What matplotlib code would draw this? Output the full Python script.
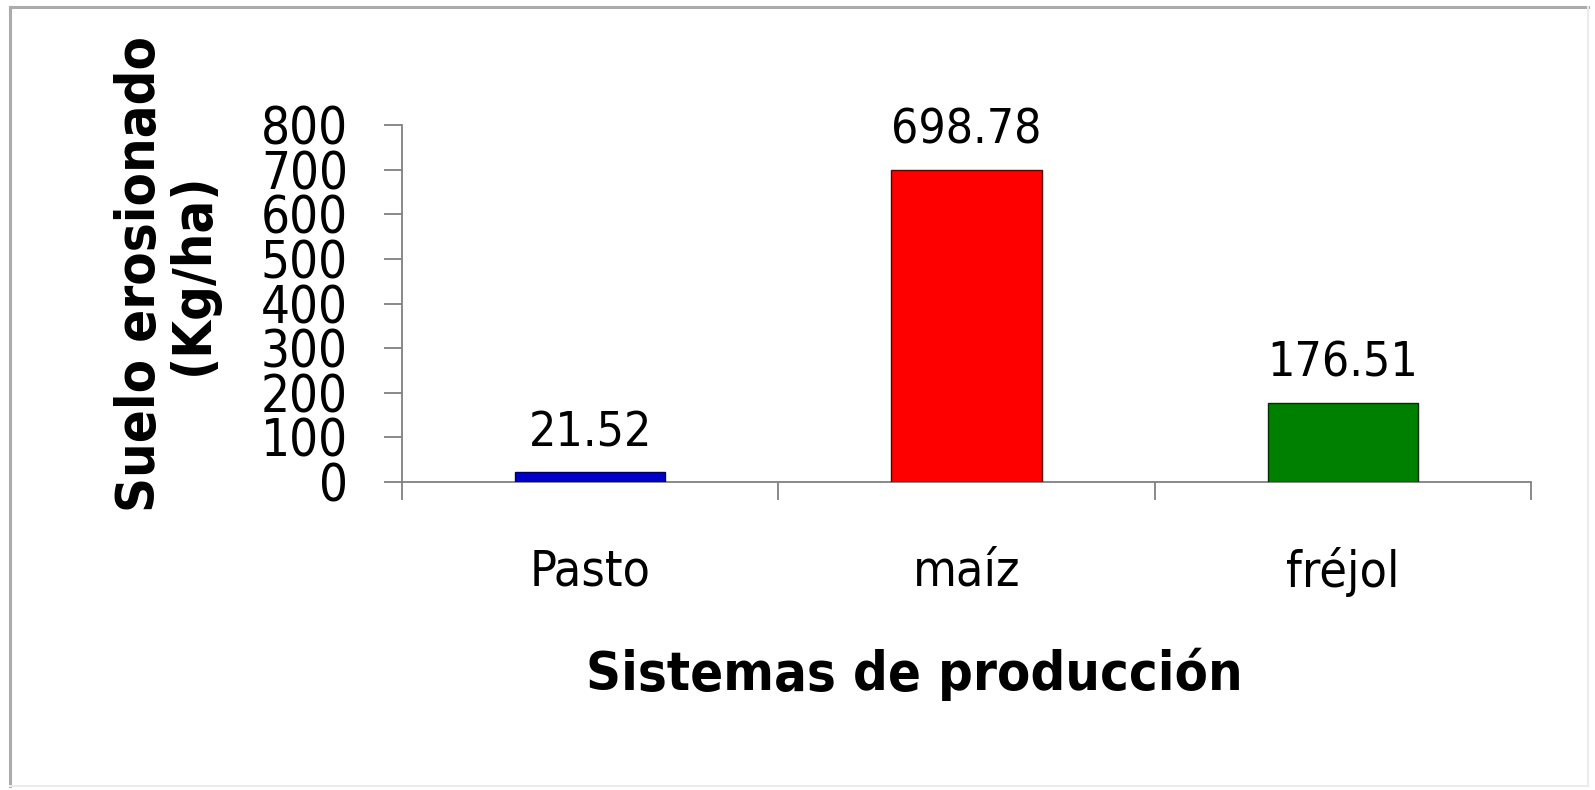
import matplotlib
matplotlib.use("Agg")
import matplotlib.pyplot as plt
from matplotlib.lines import Line2D

# Soil eroded per production system (kg/ha)
categories = ["Pasto", "maíz", "fréjol"]
values = [21.52, 698.78, 176.51]
value_labels = ["21.52", "698.78", "176.51"]
bar_colors = ["#0000C8", "#FF0000", "#008000"]
edge_colors = ["#000060", "#600000", "#003000"]
y_ticks = [0, 100, 200, 300, 400, 500, 600, 700, 800]

plt.rcParams["font.family"] = ["DejaVu Sans"]

W, H = 1595, 790
fig = plt.figure(figsize=(W / 100, H / 100), dpi=100)
fig.patch.set_facecolor("white")


def fx(px):
    return px / W


def fy(py):
    return 1 - py / H


# chart-area frame: darker top/left edges, faint bottom/right edges
fig.add_artist(Line2D([fx(10), fx(10)], [fy(7), fy(786)], color="#ABABAB", lw=2.2))
fig.add_artist(Line2D([fx(10), fx(1588)], [fy(7), fy(7)], color="#ABABAB", lw=2.2))
fig.add_artist(Line2D([fx(1588), fx(1588)], [fy(7), fy(786)], color="#EBEBEB", lw=1.5))
fig.add_artist(Line2D([fx(10), fx(1588)], [fy(786), fy(786)], color="#EBEBEB", lw=1.5))

ax = fig.add_axes([fx(402), fy(482), fx(1531) - fx(402), fy(125) - fy(482)])
ax.set_facecolor("none")
x = list(range(len(categories)))
ax.bar(x, values, width=0.40, color=bar_colors, edgecolor=edge_colors,
       linewidth=1.0, zorder=3)

ax.set_xlim(-0.5, len(categories) - 0.5)
ax.set_ylim(0, 800)

for s in ["top", "right"]:
    ax.spines[s].set_visible(False)
for s in ["left", "bottom"]:
    ax.spines[s].set_color("#808080")
    ax.spines[s].set_linewidth(1.3)

ax.set_yticks(y_ticks)
ax.set_yticklabels([str(v) for v in y_ticks], fontsize=36.5, fontstretch="condensed")
ax.tick_params(axis="y", direction="out", length=13, width=1.3, color="#808080", pad=26)

ax.set_xticks(x)
ax.set_xticklabels(categories, fontsize=36, fontstretch="condensed")
ax.tick_params(axis="x", which="major", length=0, pad=47)
ax.set_xticks([i - 0.5 for i in range(len(categories) + 1)], minor=True)
ax.tick_params(axis="x", which="minor", direction="out", length=13, width=1.3, color="#808080")

for xi, v, lab in zip(x, values, value_labels):
    ax.annotate(lab, (xi, v), xytext=(0, 19), textcoords="offset points",
                ha="center", va="baseline", fontsize=34.5, fontstretch="condensed")

fig.text(fx(914), fy(690), "Sistemas de producción", ha="center", va="baseline",
         fontsize=39, fontweight="bold", fontstretch="condensed")
fig.text(fx(166), fy(274), "Suelo erosionado\n(Kg/ha)", ha="center", va="center",
         rotation=90, fontsize=39, fontweight="bold", fontstretch="condensed",
         linespacing=1.02, multialignment="center")

fig.savefig("out.png", dpi=100, facecolor="white")
